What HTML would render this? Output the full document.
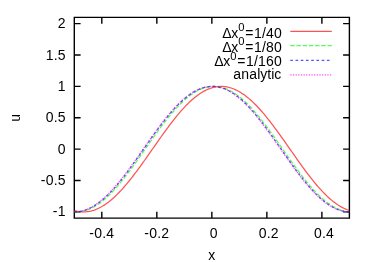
<!DOCTYPE html><html><head><meta charset="utf-8"><style>html,body{margin:0;padding:0;background:#fff}svg{display:block}text{font-family:"Liberation Sans",sans-serif;font-size:14px;fill:#000}</style></head><body>
<svg width="374" height="262" viewBox="0 0 374 262">
<rect width="100%" height="100%" fill="#fff"/>
<path d="M74.30 17.40H349.40V218.15H74.30ZM101.81 218.15v-6.3M101.81 17.40v6.3M156.83 218.15v-6.3M156.83 17.40v6.3M211.85 218.15v-6.3M211.85 17.40v6.3M266.87 218.15v-6.3M266.87 17.40v6.3M321.89 218.15v-6.3M321.89 17.40v6.3M74.30 211.88h6.3M349.40 211.88h-6.3M74.30 180.51h6.3M349.40 180.51h-6.3M74.30 149.14h6.3M349.40 149.14h-6.3M74.30 117.78h6.3M349.40 117.78h-6.3M74.30 86.41h6.3M349.40 86.41h-6.3M74.30 55.04h6.3M349.40 55.04h-6.3M74.30 23.67h6.3M349.40 23.67h-6.3" fill="none" stroke="#000" stroke-width="1.4"/>
<g fill="none" stroke-width="1.25" stroke-opacity="0.68">
<polyline points="74.30,210.45 75.68,210.84 77.05,211.16 78.43,211.43 79.80,211.63 81.18,211.78 82.55,211.86 83.93,211.88 85.30,211.83 86.68,211.73 88.05,211.56 89.43,211.33 90.81,211.04 92.18,210.69 93.56,210.28 94.93,209.81 96.31,209.27 97.68,208.68 99.06,208.03 100.43,207.32 101.81,206.56 103.19,205.74 104.56,204.86 105.94,203.93 107.31,202.94 108.69,201.90 110.06,200.81 111.44,199.66 112.81,198.47 114.19,197.23 115.56,195.94 116.94,194.60 118.32,193.22 119.69,191.80 121.07,190.33 122.44,188.83 123.82,187.28 125.19,185.70 126.57,184.08 127.94,182.42 129.32,180.74 130.70,179.02 132.07,177.27 133.45,175.50 134.82,173.69 136.20,171.87 137.57,170.02 138.95,168.15 140.32,166.27 141.70,164.36 143.07,162.44 144.45,160.51 145.83,158.57 147.20,156.61 148.58,154.65 149.95,152.69 151.33,150.72 152.70,148.75 154.08,146.78 155.45,144.81 156.83,142.85 158.21,140.89 159.58,138.94 160.96,137.00 162.33,135.07 163.71,133.16 165.08,131.26 166.46,129.38 167.83,127.52 169.21,125.68 170.58,123.87 171.96,122.08 173.34,120.31 174.71,118.57 176.09,116.87 177.46,115.20 178.84,113.55 180.21,111.95 181.59,110.38 182.96,108.85 184.34,107.36 185.72,105.91 187.09,104.50 188.47,103.14 189.84,101.82 191.22,100.55 192.59,99.33 193.97,98.16 195.34,97.04 196.72,95.96 198.09,94.94 199.47,93.98 200.85,93.07 202.22,92.21 203.60,91.41 204.97,90.67 206.35,89.98 207.72,89.36 209.10,88.79 210.47,88.28 211.85,87.83 213.23,87.45 214.60,87.12 215.98,86.85 217.35,86.65 218.73,86.51 220.10,86.43 221.48,86.41 222.85,86.45 224.23,86.56 225.61,86.72 226.98,86.95 228.36,87.24 229.73,87.59 231.11,88.01 232.48,88.48 233.86,89.01 235.23,89.60 236.61,90.25 237.98,90.96 239.36,91.73 240.74,92.55 242.11,93.43 243.49,94.36 244.86,95.35 246.24,96.39 247.61,97.48 248.99,98.62 250.36,99.81 251.74,101.06 253.12,102.35 254.49,103.68 255.87,105.06 257.24,106.49 258.62,107.95 259.99,109.46 261.37,111.00 262.74,112.59 264.12,114.21 265.49,115.86 266.87,117.55 268.25,119.27 269.62,121.01 271.00,122.79 272.37,124.59 273.75,126.42 275.12,128.26 276.50,130.13 277.87,132.02 279.25,133.92 280.62,135.84 282.00,137.77 283.38,139.72 284.75,141.67 286.13,143.63 287.50,145.60 288.88,147.57 290.25,149.54 291.63,151.51 293.00,153.47 294.38,155.44 295.76,157.40 297.13,159.35 298.51,161.28 299.88,163.21 301.26,165.13 302.63,167.02 304.01,168.90 305.38,170.76 306.76,172.60 308.13,174.42 309.51,176.21 310.89,177.97 312.26,179.71 313.64,181.42 315.01,183.09 316.39,184.73 317.76,186.33 319.14,187.90 320.51,189.43 321.89,190.92 323.27,192.37 324.64,193.78 326.02,195.14 327.39,196.46 328.77,197.73 330.14,198.95 331.52,200.13 332.89,201.25 334.27,202.32 335.64,203.34 337.02,204.31 338.40,205.22 339.77,206.07 341.15,206.87 342.52,207.62 343.90,208.30 345.27,208.93 346.65,209.49 348.02,210.00 349.40,210.45" stroke="#ff0000"/>
<polyline points="74.30,211.81 75.68,211.87 77.05,211.87 78.43,211.81 79.80,211.68 81.18,211.50 82.55,211.25 83.93,210.94 85.30,210.57 86.68,210.14 88.05,209.65 89.43,209.10 90.81,208.49 92.18,207.83 93.56,207.10 94.93,206.32 96.31,205.48 97.68,204.58 99.06,203.64 100.43,202.63 101.81,201.58 103.19,200.47 104.56,199.31 105.94,198.10 107.31,196.85 108.69,195.54 110.06,194.19 111.44,192.80 112.81,191.36 114.19,189.88 115.56,188.37 116.94,186.81 118.32,185.21 119.69,183.58 121.07,181.92 122.44,180.22 123.82,178.50 125.19,176.74 126.57,174.96 127.94,173.15 129.32,171.32 130.70,169.46 132.07,167.59 133.45,165.70 134.82,163.79 136.20,161.86 137.57,159.93 138.95,157.98 140.32,156.03 141.70,154.06 143.07,152.10 144.45,150.13 145.83,148.16 147.20,146.19 148.58,144.22 149.95,142.26 151.33,140.30 152.70,138.36 154.08,136.42 155.45,134.50 156.83,132.59 158.21,130.70 159.58,128.82 160.96,126.97 162.33,125.13 163.71,123.33 165.08,121.54 166.46,119.79 167.83,118.06 169.21,116.36 170.58,114.70 171.96,113.07 173.34,111.48 174.71,109.92 176.09,108.40 177.46,106.92 178.84,105.48 180.21,104.09 181.59,102.74 182.96,101.44 184.34,100.18 185.72,98.97 187.09,97.82 188.47,96.71 189.84,95.65 191.22,94.65 192.59,93.70 193.97,92.80 195.34,91.97 196.72,91.18 198.09,90.46 199.47,89.79 200.85,89.18 202.22,88.63 203.60,88.14 204.97,87.71 206.35,87.34 207.72,87.03 209.10,86.79 210.47,86.60 211.85,86.48 213.23,86.42 214.60,86.42 215.98,86.48 217.35,86.60 218.73,86.79 220.10,87.03 221.48,87.34 222.85,87.71 224.23,88.14 225.61,88.63 226.98,89.18 228.36,89.79 229.73,90.46 231.11,91.18 232.48,91.97 233.86,92.80 235.23,93.70 236.61,94.65 237.98,95.65 239.36,96.71 240.74,97.82 242.11,98.97 243.49,100.18 244.86,101.44 246.24,102.74 247.61,104.09 248.99,105.48 250.36,106.92 251.74,108.40 253.12,109.92 254.49,111.48 255.87,113.07 257.24,114.70 258.62,116.36 259.99,118.06 261.37,119.79 262.74,121.54 264.12,123.33 265.49,125.13 266.87,126.97 268.25,128.82 269.62,130.70 271.00,132.59 272.37,134.50 273.75,136.42 275.12,138.36 276.50,140.30 277.87,142.26 279.25,144.22 280.62,146.19 282.00,148.16 283.38,150.13 284.75,152.10 286.13,154.06 287.50,156.03 288.88,157.98 290.25,159.93 291.63,161.86 293.00,163.79 294.38,165.70 295.76,167.59 297.13,169.46 298.51,171.32 299.88,173.15 301.26,174.96 302.63,176.74 304.01,178.50 305.38,180.22 306.76,181.92 308.13,183.58 309.51,185.21 310.89,186.81 312.26,188.37 313.64,189.88 315.01,191.36 316.39,192.80 317.76,194.19 319.14,195.54 320.51,196.85 321.89,198.10 323.27,199.31 324.64,200.47 326.02,201.58 327.39,202.63 328.77,203.64 330.14,204.58 331.52,205.48 332.89,206.32 334.27,207.10 335.64,207.83 337.02,208.49 338.40,209.10 339.77,209.65 341.15,210.14 342.52,210.57 343.90,210.94 345.27,211.25 346.65,211.50 348.02,211.68 349.40,211.81" stroke="#00ff00" stroke-dasharray="4.4 1.8"/>
<polyline points="74.30,211.87 75.68,211.87 77.05,211.80 78.43,211.67 79.80,211.48 81.18,211.22 82.55,210.91 83.93,210.53 85.30,210.10 86.68,209.60 88.05,209.05 89.43,208.43 90.81,207.76 92.18,207.03 93.56,206.24 94.93,205.39 96.31,204.49 97.68,203.54 99.06,202.53 100.43,201.47 101.81,200.35 103.19,199.19 104.56,197.98 105.94,196.72 107.31,195.41 108.69,194.06 110.06,192.66 111.44,191.22 112.81,189.73 114.19,188.21 115.56,186.65 116.94,185.05 118.32,183.42 119.69,181.75 121.07,180.05 122.44,178.32 123.82,176.56 125.19,174.78 126.57,172.97 127.94,171.13 129.32,169.28 130.70,167.40 132.07,165.51 133.45,163.60 134.82,161.67 136.20,159.73 137.57,157.79 138.95,155.83 140.32,153.87 141.70,151.90 143.07,149.93 144.45,147.96 145.83,145.99 147.20,144.02 148.58,142.06 149.95,140.11 151.33,138.16 152.70,136.23 154.08,134.31 155.45,132.40 156.83,130.51 158.21,128.64 159.58,126.78 160.96,124.95 162.33,123.15 163.71,121.37 165.08,119.61 166.46,117.89 167.83,116.20 169.21,114.54 170.58,112.91 171.96,111.32 173.34,109.76 174.71,108.25 176.09,106.78 177.46,105.34 178.84,103.95 180.21,102.61 181.59,101.31 182.96,100.06 184.34,98.86 185.72,97.70 187.09,96.60 188.47,95.55 189.84,94.55 191.22,93.61 192.59,92.72 193.97,91.89 195.34,91.11 196.72,90.39 198.09,89.73 199.47,89.12 200.85,88.58 202.22,88.10 203.60,87.67 204.97,87.31 206.35,87.01 207.72,86.77 209.10,86.59 210.47,86.47 211.85,86.41 213.23,86.42 214.60,86.49 215.98,86.62 217.35,86.81 218.73,87.06 220.10,87.38 221.48,87.75 222.85,88.19 224.23,88.68 225.61,89.24 226.98,89.85 228.36,90.53 229.73,91.26 231.11,92.05 232.48,92.89 233.86,93.79 235.23,94.75 236.61,95.76 237.98,96.82 239.36,97.93 240.74,99.09 242.11,100.31 243.49,101.57 244.86,102.87 246.24,104.23 247.61,105.63 248.99,107.07 250.36,108.55 251.74,110.07 253.12,111.63 254.49,113.23 255.87,114.86 257.24,116.53 258.62,118.23 259.99,119.96 261.37,121.72 262.74,123.51 264.12,125.32 265.49,127.15 266.87,129.01 268.25,130.88 269.62,132.78 271.00,134.69 272.37,136.61 273.75,138.55 275.12,140.50 276.50,142.45 277.87,144.42 279.25,146.38 280.62,148.35 282.00,150.32 283.38,152.29 284.75,154.26 286.13,156.22 287.50,158.18 288.88,160.12 290.25,162.06 291.63,163.98 293.00,165.89 294.38,167.78 295.76,169.65 297.13,171.50 298.51,173.33 299.88,175.14 301.26,176.92 302.63,178.67 304.01,180.40 305.38,182.09 306.76,183.75 308.13,185.38 309.51,186.97 310.89,188.52 312.26,190.03 313.64,191.51 315.01,192.94 316.39,194.33 317.76,195.67 319.14,196.97 320.51,198.22 321.89,199.43 323.27,200.58 324.64,201.68 326.02,202.73 327.39,203.73 328.77,204.68 330.14,205.57 331.52,206.40 332.89,207.18 334.27,207.90 335.64,208.56 337.02,209.16 338.40,209.70 339.77,210.19 341.15,210.61 342.52,210.98 343.90,211.28 345.27,211.52 346.65,211.70 348.02,211.82 349.40,211.87" stroke="#0000ff" stroke-dasharray="2.6 2.63"/>
<polyline points="74.30,211.88 75.68,211.85 77.05,211.75 78.43,211.60 79.80,211.38 81.18,211.10 82.55,210.77 83.93,210.37 85.30,209.91 86.68,209.39 88.05,208.81 89.43,208.17 90.81,207.47 92.18,206.72 93.56,205.91 94.93,205.04 96.31,204.12 97.68,203.14 99.06,202.11 100.43,201.03 101.81,199.90 103.19,198.71 104.56,197.48 105.94,196.20 107.31,194.87 108.69,193.50 110.06,192.09 111.44,190.63 112.81,189.13 114.19,187.59 115.56,186.02 116.94,184.40 118.32,182.76 119.69,181.08 121.07,179.36 122.44,177.62 123.82,175.85 125.19,174.06 126.57,172.24 127.94,170.39 129.32,168.53 130.70,166.64 132.07,164.74 133.45,162.83 134.82,160.90 136.20,158.96 137.57,157.00 138.95,155.05 140.32,153.08 141.70,151.11 143.07,149.14 144.45,147.17 145.83,145.20 147.20,143.24 148.58,141.28 149.95,139.33 151.33,137.39 152.70,135.46 154.08,133.54 155.45,131.64 156.83,129.76 158.21,127.89 159.58,126.05 160.96,124.23 162.33,122.43 163.71,120.66 165.08,118.92 166.46,117.21 167.83,115.53 169.21,113.88 170.58,112.27 171.96,110.69 173.34,109.15 174.71,107.66 176.09,106.20 177.46,104.78 178.84,103.41 180.21,102.08 181.59,100.80 182.96,99.57 184.34,98.39 185.72,97.26 187.09,96.17 188.47,95.14 189.84,94.17 191.22,93.25 192.59,92.38 193.97,91.57 195.34,90.81 196.72,90.12 198.09,89.48 199.47,88.90 200.85,88.38 202.22,87.92 203.60,87.52 204.97,87.18 206.35,86.90 207.72,86.69 209.10,86.53 210.47,86.44 211.85,86.41 213.23,86.44 214.60,86.53 215.98,86.69 217.35,86.90 218.73,87.18 220.10,87.52 221.48,87.92 222.85,88.38 224.23,88.90 225.61,89.48 226.98,90.12 228.36,90.81 229.73,91.57 231.11,92.38 232.48,93.25 233.86,94.17 235.23,95.14 236.61,96.17 237.98,97.26 239.36,98.39 240.74,99.57 242.11,100.80 243.49,102.08 244.86,103.41 246.24,104.78 247.61,106.20 248.99,107.66 250.36,109.15 251.74,110.69 253.12,112.27 254.49,113.88 255.87,115.53 257.24,117.21 258.62,118.92 259.99,120.66 261.37,122.43 262.74,124.23 264.12,126.05 265.49,127.89 266.87,129.76 268.25,131.64 269.62,133.54 271.00,135.46 272.37,137.39 273.75,139.33 275.12,141.28 276.50,143.24 277.87,145.20 279.25,147.17 280.62,149.14 282.00,151.11 283.38,153.08 284.75,155.05 286.13,157.00 287.50,158.96 288.88,160.90 290.25,162.83 291.63,164.74 293.00,166.64 294.38,168.53 295.76,170.39 297.13,172.24 298.51,174.06 299.88,175.85 301.26,177.62 302.63,179.36 304.01,181.08 305.38,182.76 306.76,184.40 308.13,186.02 309.51,187.59 310.89,189.13 312.26,190.63 313.64,192.09 315.01,193.50 316.39,194.87 317.76,196.20 319.14,197.48 320.51,198.71 321.89,199.90 323.27,201.03 324.64,202.11 326.02,203.14 327.39,204.12 328.77,205.04 330.14,205.91 331.52,206.72 332.89,207.47 334.27,208.17 335.64,208.81 337.02,209.39 338.40,209.91 339.77,210.37 341.15,210.77 342.52,211.10 343.90,211.38 345.27,211.60 346.65,211.75 348.02,211.85 349.40,211.88" stroke="#ff00ff" stroke-dasharray="1.32 1.32"/>
<path d="M290.3 31.4H331.8" stroke="#ff0000"/>
<path d="M290.3 45.7H331.8" stroke="#00ff00" stroke-dasharray="4.4 1.8"/>
<path d="M290.3 60.45H331.8" stroke="#0000ff" stroke-dasharray="2.6 2.63"/>
<path d="M290.3 74.95H331.8" stroke="#ff00ff" stroke-dasharray="1.32 1.32"/>
</g>
<g style="filter:grayscale(1)">
<text x="52.70 57.70" y="216.48">-1</text>
<text x="40.70 45.70 53.70 57.70" y="185.11">-0.5</text>
<text x="57.70" y="153.74">0</text>
<text x="45.70 53.70 57.70" y="122.38">0.5</text>
<text x="57.70" y="91.01">1</text>
<text x="45.70 53.70 57.70" y="59.64">1.5</text>
<text x="57.70" y="28.27">2</text>
<text x="89.31 94.31 102.31 106.31" y="238.00">-0.4</text>
<text x="144.33 149.33 157.33 161.33" y="238.00">-0.2</text>
<text x="209.85" y="238.00">0</text>
<text x="258.87 266.87 270.87" y="238.00">0.2</text>
<text x="313.89 321.89 325.89" y="238.00">0.4</text>
<text x="208.30" y="260.10" font-size="14.7px">x</text>
<text transform="translate(20.2,121.8) rotate(-90)" font-size="14.7px">u</text>
<text y="37.60"><tspan x="222.15 231.15">&#916;x</tspan><tspan x="238.15" dy="-6.7" font-size="11.2px">0</tspan><tspan dy="6.7" x="245.15 254.00 262.00 266.00 274.00">=1/40</tspan></text>
<text y="51.80"><tspan x="222.15 231.15">&#916;x</tspan><tspan x="238.15" dy="-6.7" font-size="11.2px">0</tspan><tspan dy="6.7" x="245.15 254.00 262.00 266.00 274.00">=1/80</tspan></text>
<text y="66.30"><tspan x="214.15 223.15">&#916;x</tspan><tspan x="230.15" dy="-6.7" font-size="11.2px">0</tspan><tspan dy="6.7" x="237.15 246.00 254.00 258.00 266.00 274.00">=1/160</tspan></text>
<text x="233.20 241.20 249.20 257.20 260.20 267.20 271.20 274.20" y="79.20" font-size="14.7px">analytic</text>
</g>
</svg></body></html>
